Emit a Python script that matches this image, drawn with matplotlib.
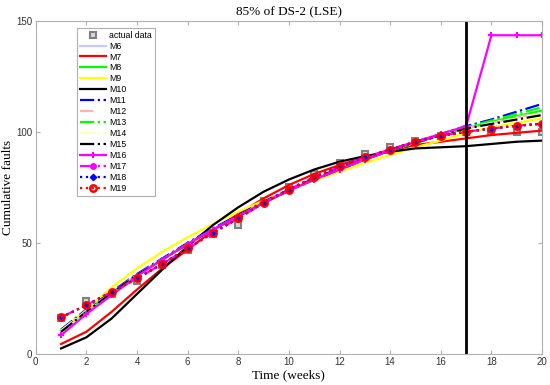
import matplotlib
matplotlib.use("Agg")
import matplotlib.pyplot as plt
import numpy as np

weeks = list(range(1, 21))
actual = [16, 24, 27, 33, 40, 47, 54, 58, 69, 75, 81, 86, 90, 93, 96, 98, 100, 100, 100, 100]

m6  = [10.5, 19.5, 27.5, 35.5, 42.5, 49.5, 56, 62, 68, 73.5, 78.5, 83, 87.5, 91.5, 95, 98.5, 101.5, 104, 106.5, 109]
m7  = [4.5, 10, 19, 29, 38.5, 47, 55.5, 63, 70, 76, 81, 85, 88.5, 91.5, 94, 95.5, 97, 98.5, 99.5, 100.5]
m8  = [10.5, 19.5, 27.5, 35.5, 42.5, 49.5, 56, 62, 68, 73.5, 78.5, 83, 87.5, 91.5, 95, 98.5, 101.5, 104.5, 107, 109.5]
m9  = [10, 20, 30, 38.5, 46, 52.5, 58.5, 64, 69, 73.5, 78, 82, 86, 89.5, 93, 96, 99.5, 102, 104, 106]
m10 = [2.5, 7.5, 16, 27, 38, 48.5, 58, 66, 73, 78.5, 83, 86.5, 89, 91, 92.5, 93, 93.5, 94.5, 95.5, 96]
m11 = [11, 20, 28, 36, 43, 50, 56.5, 62.5, 68.5, 74, 79, 83.5, 88, 92, 95.5, 99, 102.5, 105.5, 109, 112.5]
m12 = [10.5, 19.5, 27.5, 35.5, 42.5, 49.5, 56, 62, 68, 73.5, 78.5, 83, 87.5, 91.5, 95, 98.5, 101.5, 104, 106.5, 109]
m13 = [10.5, 19.5, 27.5, 35.5, 42.5, 49.5, 56, 62, 68, 73.5, 78.5, 83, 87.5, 91.5, 95, 98.5, 102, 105, 108, 111]
m14 = [10.5, 19.5, 27.5, 35.5, 42.5, 49.5, 56, 62, 68, 73.5, 78.5, 83, 87.5, 91.5, 95, 98.5, 101.5, 104, 106, 108.5]
m15 = [10, 19, 27.5, 35.5, 42.5, 49.5, 56, 62, 68, 73.5, 78.5, 83, 87.5, 91.5, 95, 98.5, 101.5, 103.5, 105.5, 107.5]
m16 = [8.5, 18, 26.5, 35, 42.5, 49.5, 56, 62, 68, 73.5, 78.5, 83, 87.5, 91.5, 95.5, 99, 102.5, 143.4, 143.4, 143.4]
m17 = [16.5, 22, 28, 34, 40.5, 47.5, 54.5, 61, 68, 74, 79.5, 84.5, 88.5, 92, 95.5, 98.2, 100, 101.4, 102.7, 103.6]
m18 = [16.5, 22, 28, 34, 40.5, 47.5, 54.5, 61, 68, 74, 79.5, 84.5, 88.5, 92, 95.5, 98.2, 100, 101.4, 102.7, 103.6]
m19 = [16.5, 22, 28, 34, 40.5, 47.5, 54.5, 61, 68, 74, 79.5, 84.5, 88.5, 92, 95.5, 98.2, 100, 101.4, 102.7, 103.6]

labels = ["actual data", "M6", "M7", "M8", "M9", "M10", "M11", "M12", "M13",
          "M14", "M15", "M16", "M17", "M18", "M19"]
split_week = 17

fig = plt.figure(figsize=(5.5, 3.85), dpi=100)
ax = fig.add_axes([0.065, 0.0805, 0.9205, 0.866])

lw = 1.6
ax.plot(weeks, actual, linestyle="none", marker="s", markersize=5,
        markerfacecolor="#d8d8d8", markeredgecolor="#808080", markeredgewidth=1.5,
        label=labels[0], zorder=2)
ax.plot(weeks, m6, color="#c8c8ff", lw=lw, label=labels[1])
ax.plot(weeks, m7, color="#ff0000", lw=lw, label=labels[2])
ax.plot(weeks, m8, color="#00ff00", lw=lw, label=labels[3])
ax.plot(weeks, m9, color="#ffff00", lw=lw, label=labels[4])
ax.plot(weeks, m10, color="#000000", lw=lw, label=labels[5])
ax.plot(weeks, m11, color="#0000ff", lw=lw, linestyle="-.", label=labels[6])
ax.plot(weeks, m12, color="#ffb0b0", lw=lw, linestyle=(0, (6, 6)), label=labels[7])
ax.plot(weeks, m13, color="#00ff00", lw=lw, linestyle="-.", label=labels[8])
ax.plot(weeks, m14, color="#ffffc0", lw=lw, linestyle="-.", label=labels[9])
ax.plot(weeks, m15, color="#000000", lw=lw, linestyle="-.", label=labels[10])
ax.plot(weeks, m16, color="#ff00ff", lw=lw, marker="+", markersize=5,
        markeredgewidth=1.5, label=labels[11])
ax.plot(weeks, m17, color="#ff00ff", lw=lw, linestyle="-.", marker="o", markersize=4,
        label=labels[12])
ax.plot(weeks, m18, color="#0000ff", lw=lw, linestyle=":", marker="D", markersize=3.2,
        label=labels[13])
ax.plot(weeks, m19, color="#ff0000", lw=lw, linestyle=":", marker="o", markersize=4.6,
        markerfacecolor="none", markeredgewidth=1.8, label=labels[14])

ax.axvline(split_week, color="black", lw=2)

ax.set_xlim(0, 20)
ax.set_ylim(0, 150)
ax.set_xticks(range(0, 21, 2))
ax.set_yticks([0, 50, 100, 150])

for s in ax.spines.values():
    s.set_color("#b0b0b0")
    s.set_linewidth(0.8)
ax.tick_params(direction="in", top=True, right=True, length=3, color="#b0b0b0",
               labelsize=7, labelcolor="#333333", pad=2.5)
for t in ax.get_xticklabels() + ax.get_yticklabels():
    t.set_fontfamily("Liberation Sans")

ax.set_title("85% of DS-2 (LSE)", fontfamily="Liberation Serif", fontsize=9.5, pad=4)
ax.set_xlabel("Time (weeks)", fontfamily="Liberation Serif", fontsize=9.5, labelpad=1)
ax.set_ylabel("Cumulative faults", fontfamily="Liberation Serif", fontsize=9.5)
ax.yaxis.set_label_coords(-0.042, 0.5)

leg = ax.legend(loc="upper left", bbox_to_anchor=(0.082, 0.979), borderaxespad=0,
                prop={"family": "Liberation Sans", "size": 6.3}, handlelength=2.9,
                labelspacing=0.22, handletextpad=0.4, borderpad=0.35,
                fancybox=False, frameon=True, edgecolor="#b0b0b0", framealpha=1)
leg.get_frame().set_linewidth(0.8)

fig.savefig("out.png", dpi=100)
